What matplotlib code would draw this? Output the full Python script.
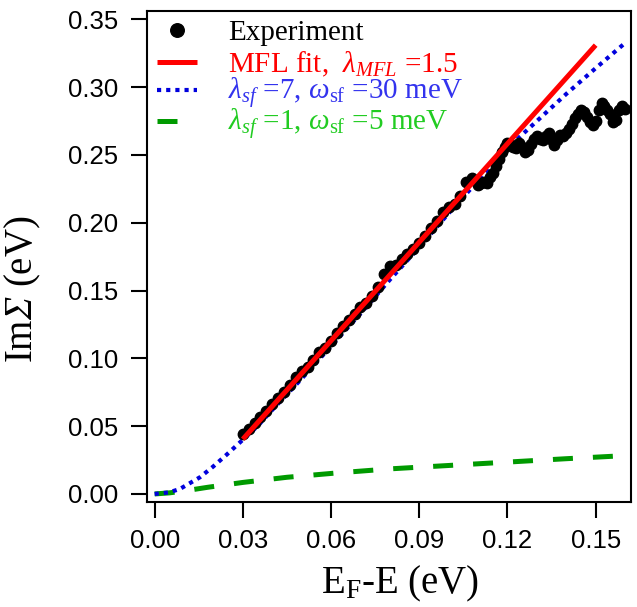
import matplotlib
matplotlib.use("Agg")
import matplotlib.pyplot as plt

plt.rcParams['mathtext.fontset'] = 'custom'
plt.rcParams['mathtext.rm'] = 'Liberation Serif'
plt.rcParams['mathtext.it'] = 'Liberation Serif:italic'
plt.rcParams['mathtext.bf'] = 'Liberation Serif:bold'
plt.rcParams['mathtext.sf'] = 'Liberation Serif:italic'

# ---- data ----
exp_x = [0.030, 0.032, 0.034, 0.036, 0.038, 0.040, 0.042, 0.044, 0.046, 0.048,
         0.050, 0.052, 0.054, 0.056, 0.058, 0.060, 0.062, 0.064, 0.066, 0.068,
         0.070, 0.072, 0.074, 0.076, 0.078, 0.080, 0.082, 0.084, 0.086, 0.088,
         0.090, 0.092, 0.094, 0.096, 0.098, 0.100, 0.102, 0.104, 0.106, 0.108,
         0.110, 0.111, 0.112, 0.113, 0.114, 0.115, 0.116, 0.117, 0.118, 0.119,
         0.120, 0.121, 0.122, 0.123, 0.124, 0.125, 0.126, 0.127, 0.128, 0.129,
         0.130, 0.131, 0.132, 0.133, 0.134, 0.135, 0.136, 0.137, 0.138, 0.139,
         0.140, 0.141, 0.142, 0.143, 0.144, 0.145, 0.146, 0.147, 0.148, 0.149,
         0.150, 0.151, 0.152, 0.153, 0.154, 0.155, 0.156, 0.157, 0.158, 0.159,
         0.160]
exp_y = [0.044, 0.048, 0.052, 0.057, 0.061, 0.066, 0.071, 0.075, 0.080, 0.086,
         0.091, 0.094, 0.099, 0.105, 0.108, 0.113, 0.119, 0.124, 0.128, 0.133,
         0.138, 0.141, 0.146, 0.153, 0.162, 0.168, 0.169, 0.173, 0.177, 0.181,
         0.185, 0.190, 0.196, 0.201, 0.208, 0.212, 0.214, 0.220, 0.230, 0.233,
         0.228, 0.229, 0.230, 0.229, 0.234, 0.237, 0.242, 0.247, 0.252, 0.256,
         0.259, 0.258, 0.256, 0.255, 0.259, 0.256, 0.252, 0.254, 0.258, 0.262,
         0.264, 0.262, 0.261, 0.264, 0.266, 0.261, 0.257, 0.261, 0.265, 0.264,
         0.266, 0.269, 0.273, 0.277, 0.280, 0.283, 0.282, 0.278, 0.274, 0.272,
         0.275, 0.283, 0.288, 0.286, 0.283, 0.280, 0.274, 0.276, 0.283, 0.286,
         0.284]

mfl_x = [0.030, 0.150]
mfl_y = [0.0404, 0.331]

sf7_x = [0.000, 0.005, 0.0086, 0.0154, 0.0199, 0.0245, 0.029, 0.035, 0.040, 0.050,
         0.060, 0.070, 0.080, 0.090, 0.100, 0.110, 0.120, 0.130, 0.140, 0.150, 0.1605]
sf7_y = [0.000, 0.0012, 0.0037, 0.0123, 0.0202, 0.029, 0.038, 0.050, 0.062, 0.085,
         0.109, 0.133, 0.158, 0.182, 0.207, 0.231, 0.255, 0.275, 0.295, 0.314, 0.3335]

sf1_x = [0.000, 0.005, 0.010, 0.018, 0.030, 0.045, 0.062, 0.080, 0.100, 0.120, 0.140, 0.162]
sf1_y = [0.000, 0.0008, 0.0022, 0.0049, 0.0085, 0.0123, 0.0155, 0.0185, 0.021, 0.0235, 0.026, 0.0285]

x_ticks = [0.00, 0.03, 0.06, 0.09, 0.12, 0.15]
x_ticklabels = ['0.00', '0.03', '0.06', '0.09', '0.12', '0.15']
y_ticks = [0.00, 0.05, 0.10, 0.15, 0.20, 0.25, 0.30, 0.35]
y_ticklabels = ['0.00', '0.05', '0.10', '0.15', '0.20', '0.25', '0.30', '0.35']

labels = ['Experiment',
          r'MFL fit,  $\lambda_{MFL}$ =1.5',
          r'$\lambda_{sf}$ =7, $\omega_{\mathrm{sf}}$ =30 meV',
          r'$\lambda_{sf}$ =1, $\omega_{\mathrm{sf}}$ =5 meV']
label_colors = ['black', '#ff0000', '#3333ee', '#22cc22']

# ---- figure ----
fig = plt.figure(figsize=(6.37, 6.07), dpi=100)
ax = fig.add_axes([0.2303, 0.1735, 0.7597, 0.8084])

red = '#ff0000'
blue_line = '#0000dd'
green_line = '#009a00'

l_sf1, = ax.plot(sf1_x, sf1_y, color=green_line, lw=3.6, linestyle=(0, (4, 4)),
                 dash_capstyle='butt', zorder=2)
l_sf7, = ax.plot(sf7_x, sf7_y, color=blue_line, lw=3.0, linestyle=(0, (1, 1.2)),
                 dash_capstyle='butt', zorder=2)
l_exp, = ax.plot(exp_x, exp_y, 'o', color='black', markersize=7.5, zorder=3,
                 linestyle='none')
l_mfl, = ax.plot(mfl_x, mfl_y, color=red, lw=3.6, solid_capstyle='butt', zorder=4)

ax.set_xlim(-0.0027, 0.1619)
ax.set_ylim(-0.0057, 0.3562)
ax.set_xticks(x_ticks)
ax.set_xticklabels(x_ticklabels)
ax.set_yticks(y_ticks)
ax.set_yticklabels(y_ticklabels)

for s in ax.spines.values():
    s.set_linewidth(1.5)
ax.tick_params(direction='out', length=11.5, width=1.5, labelsize=18.5,
               colors='black')
ax.tick_params(axis='x', pad=8)
ax.tick_params(axis='y', pad=9)
for lab in ax.get_xticklabels() + ax.get_yticklabels():
    lab.set_family('Liberation Sans')

ax.set_xlabel(r'E$_\mathrm{F}$-E (eV)', fontsize=28, family='Liberation Serif')
ax.set_ylabel(r'Im$\mathsf{\Sigma}$ (eV)', fontsize=28, family='Liberation Serif')
ax.xaxis.set_label_coords(0.524, -0.126)
ax.yaxis.set_label_coords(-0.214, 0.4335)

# legend: one entry per row so that rows sit at the reference spacing
handles = [l_exp, l_mfl, l_sf7, l_sf1]
row_y = [0.955, 0.892, 0.831, 0.768]
legs = []
for h, lab, col, yy in zip(handles, labels, label_colors, row_y):
    lg = ax.legend([h], [lab], loc='center left', bbox_to_anchor=(0.0213, yy),
                   frameon=False, borderpad=0, borderaxespad=0,
                   handlelength=1.37, handletextpad=1.06, markerscale=1.3,
                   prop={'family': 'Liberation Serif', 'size': 21},
                   labelcolor=col)
    legs.append(lg)
for lg in legs[:-1]:
    ax.add_artist(lg)

fig.savefig('out.png', dpi=100)
